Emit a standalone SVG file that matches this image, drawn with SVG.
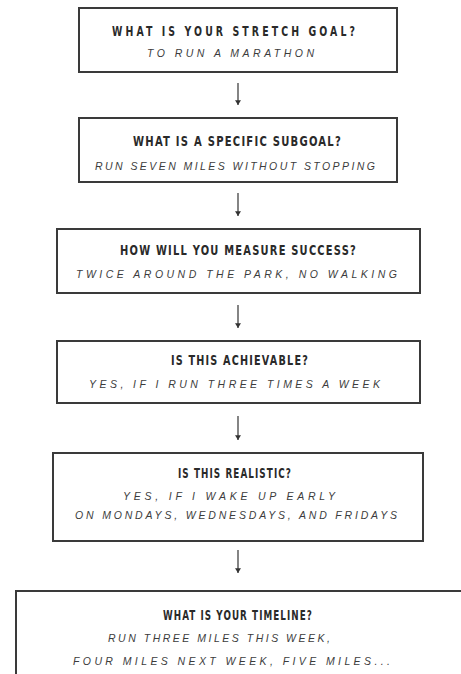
<svg xmlns="http://www.w3.org/2000/svg" width="461" height="674" viewBox="0 0 461 674">
<style>
.box{fill:#fff;stroke:#3a3a3a;stroke-width:2}
.t{font-family:"DejaVu Sans Condensed","Liberation Sans Narrow","Liberation Sans",sans-serif;font-weight:bold;font-size:13.5px;fill:#2a2a2a;text-anchor:middle;letter-spacing:1.5px}
.s{font-family:"Liberation Sans","DejaVu Sans",sans-serif;font-style:italic;font-size:10.5px;fill:#3c3c3c;text-anchor:middle;letter-spacing:3px}
.c{stroke:#333;stroke-width:1.2;fill:none}
</style>
<defs>
<marker id="ah" viewBox="0 0 8 10" refX="8" refY="5" markerWidth="5" markerHeight="6" orient="auto" markerUnits="userSpaceOnUse">
<path d="M0,0L8,5L0,10z" fill="#333"/>
</marker>
</defs>
<rect width="461" height="674" fill="#fff"/>
<g id="connectors">
<line class="c" x1="238" y1="83" x2="238" y2="105" marker-end="url(#ah)"/>
<line class="c" x1="238" y1="193" x2="238" y2="216" marker-end="url(#ah)"/>
<line class="c" x1="238" y1="305" x2="238" y2="328" marker-end="url(#ah)"/>
<line class="c" x1="238" y1="416" x2="238" y2="440" marker-end="url(#ah)"/>
<line class="c" x1="238" y1="550" x2="238" y2="573" marker-end="url(#ah)"/>
</g>
<g id="node1">
<rect class="box" x="79" y="8" width="318" height="64"/>
<text class="t" x="235" y="36" textLength="246" lengthAdjust="spacingAndGlyphs" style="letter-spacing:4px">WHAT IS YOUR STRETCH GOAL?</text>
<text class="s" x="232" y="57" textLength="170" lengthAdjust="spacing">TO RUN A MARATHON</text>
</g>
<g id="node2">
<rect class="box" x="79" y="118" width="318" height="64"/>
<text class="t" x="237.5" y="146" textLength="209" lengthAdjust="spacingAndGlyphs">WHAT IS A SPECIFIC SUBGOAL?</text>
<text class="s" x="236.5" y="170" textLength="283" lengthAdjust="spacing">RUN SEVEN MILES WITHOUT STOPPING</text>
</g>
<g id="node3">
<rect class="box" x="57" y="229" width="363" height="64"/>
<text class="t" x="238.5" y="255" textLength="237" lengthAdjust="spacingAndGlyphs">HOW WILL YOU MEASURE SUCCESS?</text>
<text class="s" x="238" y="278" textLength="324" lengthAdjust="spacing">TWICE AROUND THE PARK, NO WALKING</text>
</g>
<g id="node4">
<rect class="box" x="57" y="341" width="363" height="62"/>
<text class="t" x="240" y="365" textLength="138" lengthAdjust="spacingAndGlyphs">IS THIS ACHIEVABLE?</text>
<text class="s" x="236" y="388" textLength="294" lengthAdjust="spacing">YES, IF I RUN THREE TIMES A WEEK</text>
</g>
<g id="node5">
<rect class="box" x="53" y="453" width="370" height="88"/>
<text class="t" x="235" y="478" textLength="114" lengthAdjust="spacingAndGlyphs">IS THIS REALISTIC?</text>
<text class="s" x="230.5" y="500" textLength="215" lengthAdjust="spacing">YES, IF I WAKE UP EARLY</text>
<text class="s" x="237.5" y="519" textLength="325" lengthAdjust="spacing">ON MONDAYS, WEDNESDAYS, AND FRIDAYS</text>
</g>
<g id="node6">
<rect class="box" x="16" y="591" width="470" height="100"/>
<text class="t" x="238" y="620" textLength="150" lengthAdjust="spacingAndGlyphs">WHAT IS YOUR TIMELINE?</text>
<text class="s" x="220.5" y="642" textLength="225" lengthAdjust="spacing">RUN THREE MILES THIS WEEK,</text>
<text class="s" x="233" y="665" textLength="320" lengthAdjust="spacing">FOUR MILES NEXT WEEK, FIVE MILES...</text>
</g>
</svg>
